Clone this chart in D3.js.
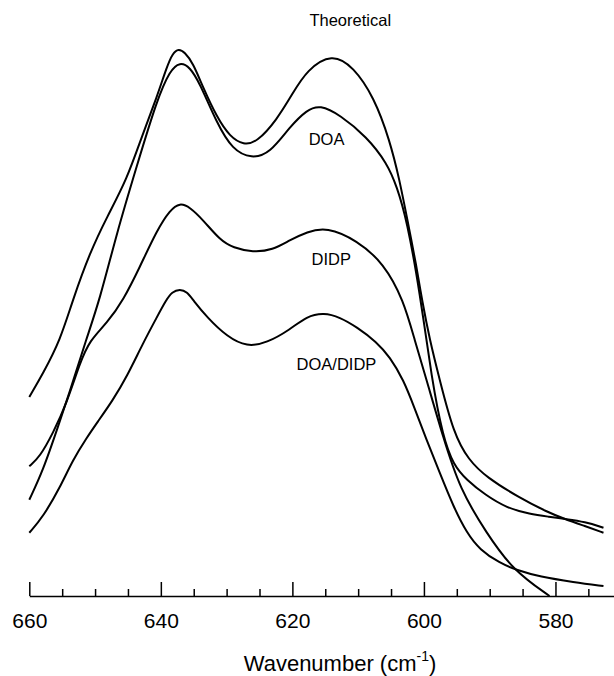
<!DOCTYPE html>
<html>
<head>
<meta charset="utf-8">
<script src="https://cdn.jsdelivr.net/npm/d3@7"></script>
<style>
  body { margin: 0; background: #fff; }
  svg { display: block; font-family: "Liberation Sans", Arial, sans-serif; }
</style>
</head>
<body>
<svg id="chart" width="614" height="676"></svg>
<script>
// spectra (wavenumber in cm-1, absorbance in arbitrary units)
const theoreticalWn = [660, 657.9, 655.3, 653.4, 650.8, 648.2, 645.2, 642.7, 640.6, 639.1, 638.2, 637.3, 636.4, 635.1, 633.6, 631.5, 629.5, 627.4, 625.4, 622.4, 619.9, 617.8, 614.0, 610.7, 607.6, 605.2, 603.7, 602.6, 601.1, 600.3, 599.1, 597.6, 595.5, 593.2, 590.5, 585.4, 581.3, 578.6, 575.5, 572.7];
const theoreticalAbs = [0.362, 0.405, 0.465, 0.538, 0.624, 0.689, 0.756, 0.842, 0.907, 0.962, 0.987, 0.995, 0.989, 0.969, 0.925, 0.871, 0.835, 0.820, 0.825, 0.865, 0.915, 0.956, 0.987, 0.962, 0.907, 0.829, 0.756, 0.689, 0.598, 0.538, 0.465, 0.393, 0.296, 0.247, 0.216, 0.178, 0.153, 0.140, 0.127, 0.115];

const doaWn = [660, 657.9, 655.8, 653.5, 651.4, 649.3, 646.7, 643.7, 640.6, 638.6, 637.1, 635.6, 634.1, 631.5, 629.1, 626.2, 623.4, 620.4, 617.8, 615.8, 612.8, 608.7, 605.6, 604.1, 602.6, 600.6, 598.8, 597.1, 595.5, 593.5, 590.7, 587.4, 583.9, 580.9, 578.6, 575.5, 572.7];
const doaAbs = [0.175, 0.229, 0.302, 0.384, 0.465, 0.538, 0.660, 0.780, 0.902, 0.956, 0.971, 0.962, 0.933, 0.860, 0.811, 0.795, 0.805, 0.853, 0.884, 0.893, 0.875, 0.835, 0.787, 0.744, 0.684, 0.551, 0.393, 0.289, 0.238, 0.211, 0.184, 0.160, 0.149, 0.144, 0.140, 0.135, 0.124];

const didpWn = [660, 658.4, 656.4, 654.3, 652.3, 650.8, 648.2, 645.7, 643.2, 640.6, 638.6, 637.1, 635.6, 633.6, 631.0, 629.0, 626.0, 623.0, 620.4, 617.8, 614.8, 610.2, 606.1, 603.1, 601.4, 599.6, 597.1, 594.5, 590.5, 586.5, 580.9];
const didpAbs = [0.236, 0.253, 0.296, 0.351, 0.424, 0.465, 0.496, 0.538, 0.598, 0.665, 0.702, 0.715, 0.707, 0.684, 0.647, 0.633, 0.625, 0.629, 0.647, 0.662, 0.671, 0.647, 0.605, 0.538, 0.465, 0.393, 0.289, 0.193, 0.115, 0.047, 0];

const mixWn = [660, 657.9, 655.3, 653.4, 651.2, 649.7, 647.3, 645.2, 642.7, 640.6, 639.2, 638.3, 637.1, 636.0, 635.1, 633.0, 629.9, 626.9, 623.9, 620.4, 617.8, 615.2, 612.8, 610.2, 607.2, 605.2, 603.1, 601.5, 599.6, 597.6, 595.5, 593.5, 591.5, 588.5, 585.9, 582.4, 577.2, 572.7];
const mixAbs = [0.115, 0.144, 0.198, 0.247, 0.289, 0.315, 0.356, 0.398, 0.460, 0.507, 0.538, 0.553, 0.558, 0.553, 0.538, 0.507, 0.471, 0.453, 0.460, 0.484, 0.509, 0.515, 0.507, 0.489, 0.462, 0.435, 0.393, 0.344, 0.284, 0.224, 0.162, 0.115, 0.084, 0.060, 0.047, 0.035, 0.025, 0.018];

const seriesNames = ["Theoretical", "DOA", "DIDP", "DOA/DIDP"];
// label anchor (wavenumber, absorbance) for each curve name
const labelWn = [611.2, 614.8, 614.1, 613.3];
const labelAbs = [1.036, 0.82, 0.601, 0.411];

const majorTicks = [660, 640, 620, 600, 580];
const minorTicks = [655, 650, 645, 635, 630, 625, 615, 610, 605, 595, 590, 585, 575];

const svg = d3.select("#chart");
const width = 614, height = 676;
const margin = {left: 29.3, right: 0, top: 46, bottom: 80};

const x = d3.scaleLinear()
    .domain([660, 571.1])
    .range([margin.left, width - margin.right]);
const y = d3.scaleLinear()
    .domain([0, 1])
    .range([height - margin.bottom, margin.top]);

svg.append("defs").append("clipPath").attr("id", "plot-clip")
    .append("rect")
    .attr("x", 0).attr("y", 0)
    .attr("width", width).attr("height", y(0));

const series = [
    {wn: theoreticalWn, abs: theoreticalAbs},
    {wn: doaWn, abs: doaAbs},
    {wn: didpWn, abs: didpAbs},
    {wn: mixWn, abs: mixAbs}
];

const line = d3.line()
    .x(d => x(d[0]))
    .y(d => y(d[1]))
    .curve(d3.curveBasis);

svg.append("g")
    .attr("clip-path", "url(#plot-clip)")
    .selectAll("path")
    .data(series)
    .enter().append("path")
    .attr("d", s => line(d3.zip(s.wn, s.abs)))
    .attr("fill", "none")
    .attr("stroke", "#000")
    .attr("stroke-width", 2)
    .attr("stroke-linejoin", "round");

// minor ticks
svg.append("g")
    .attr("transform", `translate(0,${y(0)})`)
    .call(d3.axisBottom(x).tickValues(minorTicks).tickSizeInner(-7).tickSizeOuter(0).tickFormat(""))
    .call(g => g.select(".domain").remove())
    .call(g => g.selectAll(".tick line").attr("stroke-width", 1.5));

// major ticks with labels
svg.append("g")
    .attr("transform", `translate(0,${y(0)})`)
    .call(d3.axisBottom(x).tickValues(majorTicks).tickSizeInner(-14).tickSizeOuter(0).tickPadding(17))
    .call(g => g.select(".domain").attr("stroke-width", 1.5))
    .call(g => g.selectAll(".tick line").attr("stroke-width", 1.5))
    .call(g => g.selectAll(".tick text")
        .attr("font-size", 21)
        .attr("font-family", "Liberation Sans, Arial, sans-serif")
        .attr("fill", "#000"));

// curve names
svg.append("g").selectAll("text")
    .data(seriesNames)
    .enter().append("text")
    .attr("x", (d, i) => x(labelWn[i]))
    .attr("y", (d, i) => y(labelAbs[i]))
    .attr("text-anchor", "middle")
    .attr("font-size", 16.5)
    .text(d => d);

// axis title
const title = svg.append("text")
    .attr("x", 340)
    .attr("y", 671)
    .attr("text-anchor", "middle")
    .attr("font-size", 22);
title.append("tspan").text("Wavenumber (cm");
title.append("tspan").attr("font-size", 14).attr("dy", -10).text("-1");
title.append("tspan").attr("dy", 10).text(")");
</script>
</body>
</html>
